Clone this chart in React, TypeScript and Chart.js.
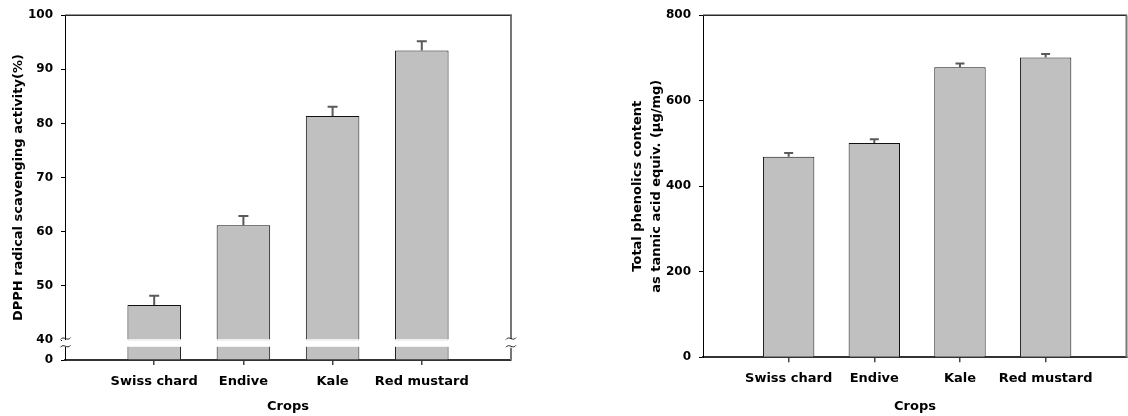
import React, { useEffect, useRef } from 'react';
import { Chart, registerables } from 'chart.js';

Chart.register(...registerables);

// ---------- data ----------
const CATEGORIES = ['Swiss chard', 'Endive', 'Kale', 'Red mustard'];

const DPPH_VALUES = [46.5, 61.2, 81.4, 93.5];
const DPPH_ERRORS = [1.7, 1.7, 1.7, 1.7];
const DPPH_UPPER_TICKS = [40, 50, 60, 70, 80, 90, 100];
const DPPH_LOWER_TICKS = [0];
const DPPH_BREAK = 40;
const DPPH_LOWER_MAX = 3.7;

const PHENOLIC_VALUES = [469, 501, 678, 701];
const PHENOLIC_ERRORS = [9, 9, 9, 8];
const PHENOLIC_TICKS = [0, 200, 400, 600, 800];

const DPPH_TITLE = 'DPPH radical scavenging activity(%)';
const PHENOLIC_TITLE = ['Total phenolics content', 'as tannic acid equiv. (\u03bcg/mg)'];
const X_TITLE = 'Crops';

// ---------- styling ----------
const FONT = "'DejaVu Sans', sans-serif";
Chart.defaults.font.family = FONT;
Chart.defaults.font.weight = 'bold';
Chart.defaults.color = '#000';

const BAR_FILL = '#C0C0C0';
const BAR_BORDER = '#111';

function squiggle(ctx: CanvasRenderingContext2D, x: number, y: number) {
  ctx.beginPath();
  ctx.moveTo(x - 5, y + 1);
  ctx.bezierCurveTo(x - 2, y - 3.5, x + 2, y + 3.5, x + 5, y - 1);
  ctx.stroke();
}

const errorBarPlugin = {
  id: 'errorBars',
  afterDatasetsDraw(chart: any, _args: any, opts: any) {
    const meta = chart.getDatasetMeta(opts.datasetIndex);
    const yScale = chart.scales[meta.yAxisID];
    const values: number[] = opts.values;
    const errors: number[] = opts.errors;
    const ctx: CanvasRenderingContext2D = chart.ctx;
    ctx.save();
    ctx.strokeStyle = '#5a5a5a';
    ctx.lineWidth = 2;
    meta.data.forEach((el: any, i: number) => {
      const x = el.x;
      const y0 = yScale.getPixelForValue(values[i]);
      const y1 = yScale.getPixelForValue(values[i] + errors[i]);
      ctx.beginPath();
      ctx.moveTo(x, y0);
      ctx.lineTo(x, y1);
      ctx.moveTo(x - opts.capWidth / 2, y1);
      ctx.lineTo(x + opts.capWidth / 2, y1);
      ctx.stroke();
    });
    ctx.restore();
  },
};

const dpphFramePlugin = {
  id: 'dpphFrame',
  afterDraw(chart: any) {
    const ctx: CanvasRenderingContext2D = chart.ctx;
    const { left, right, top, bottom } = chart.chartArea;
    const gapTop = chart.scales.yUpper.getPixelForValue(DPPH_BREAK);
    const gapBot = gapTop + 6.7;
    ctx.save();
    // white break band across bars and axes
    ctx.fillStyle = '#fff';
    ctx.fillRect(left - 3, gapTop, right - left + 6, gapBot - gapTop);
    // top border
    ctx.strokeStyle = '#2a2a2a';
    ctx.lineWidth = 1.5;
    ctx.beginPath();
    ctx.moveTo(left, top);
    ctx.lineTo(right + 1, top);
    ctx.stroke();
    // right border with break
    ctx.strokeStyle = '#777';
    ctx.lineWidth = 2;
    ctx.beginPath();
    ctx.moveTo(right, top);
    ctx.lineTo(right, gapTop - 1);
    ctx.moveTo(right, gapBot + 1);
    ctx.lineTo(right, bottom);
    ctx.stroke();
    // break marks
    ctx.strokeStyle = '#222';
    ctx.lineWidth = 1;
    squiggle(ctx, left + 0.5, gapTop - 1.5);
    squiggle(ctx, left + 0.5, gapBot - 0.5);
    squiggle(ctx, right, gapTop - 1.5);
    squiggle(ctx, right, gapBot - 0.5);
    ctx.restore();
  },
};

const phenolicFramePlugin = {
  id: 'phenolicFrame',
  afterDraw(chart: any) {
    const ctx: CanvasRenderingContext2D = chart.ctx;
    const { left, right, top, bottom } = chart.chartArea;
    ctx.save();
    ctx.strokeStyle = '#2a2a2a';
    ctx.lineWidth = 1.5;
    ctx.beginPath();
    ctx.moveTo(left, top);
    ctx.lineTo(right, top);
    ctx.stroke();
    ctx.strokeStyle = '#777';
    ctx.lineWidth = 2;
    ctx.beginPath();
    ctx.moveTo(right - 0.5, top);
    ctx.lineTo(right - 0.5, bottom);
    ctx.stroke();
    ctx.restore();
  },
};

function categoryXAxis(max: number, height: number, labelPad: number) {
  return {
    type: 'linear',
    position: 'bottom',
    min: 0,
    max,
    offset: false,
    z: 1,
    afterBuildTicks: (s: any) => {
      s.ticks = CATEGORIES.map((_, i) => ({ value: i + 1 }));
    },
    afterFit: (s: any) => {
      s.height = height;
    },
    ticks: {
      autoSkip: false,
      maxRotation: 0,
      padding: labelPad,
      font: { size: 13, weight: 'bold' },
      color: '#000',
      callback: (v: any) => CATEGORIES[Math.round(Number(v)) - 1] ?? '',
    },
    grid: {
      display: true,
      offset: false,
      drawOnChartArea: false,
      drawTicks: true,
      tickLength: 5,
      color: '#444',
      lineWidth: 1.5,
    },
    border: { display: true, color: '#333', width: 2 },
    title: {
      display: true,
      text: X_TITLE,
      font: { size: 13, weight: 'bold' },
      color: '#000',
      padding: { top: 0, bottom: 2 },
    },
  };
}

const barStyle = {
  grouped: false,
  backgroundColor: BAR_FILL,
  borderColor: BAR_BORDER,
  borderWidth: 1,
  barPercentage: 0.6,
  categoryPercentage: 1,
};

function dpphConfig(): any {
  return {
    type: 'bar',
    data: {
      datasets: [
        {
          label: 'DPPH',
          data: CATEGORIES.map((_, i) => ({ x: i + 1, y: DPPH_VALUES[i] })),
          xAxisID: 'x',
          yAxisID: 'yUpper',
          base: DPPH_BREAK,
          ...barStyle,
        },
        {
          label: 'DPPH (below break)',
          data: CATEGORIES.map((_, i) => ({ x: i + 1, y: Math.min(DPPH_VALUES[i], DPPH_LOWER_MAX) })),
          xAxisID: 'x',
          yAxisID: 'yLower',
          base: 0,
          ...barStyle,
        },
      ],
    },
    options: {
      responsive: false,
      animation: false,
      layout: { padding: { left: 0, top: 14, right: 49, bottom: 0 } },
      plugins: {
        legend: { display: false },
        tooltip: { enabled: false },
        errorBars: { datasetIndex: 0, values: DPPH_VALUES, errors: DPPH_ERRORS, capWidth: 10 },
      },
      scales: {
        x: categoryXAxis(5, 56, 9),
        yTitle: {
          type: 'linear',
          position: 'left',
          weight: 10,
          afterFit: (s: any) => {
            s.width = 28;
          },
          ticks: { display: false },
          grid: { display: false },
          border: { display: false },
          title: {
            display: true,
            text: DPPH_TITLE,
            font: { size: 13, weight: 'bold' },
            color: '#000',
            padding: { top: 10.7, bottom: 0 },
          },
        },
        yUpper: {
          type: 'linear',
          position: 'left',
          stack: 'dpph',
          stackWeight: 326,
          weight: 2,
          z: 1,
          min: DPPH_BREAK,
          max: 100,
          afterBuildTicks: (s: any) => {
            s.ticks = DPPH_UPPER_TICKS.map((v) => ({ value: v }));
          },
          afterFit: (s: any) => {
            s.width = 37;
          },
          ticks: { padding: 8, font: { size: 12, weight: 'bold' }, color: '#000' },
          grid: { drawOnChartArea: false, tickLength: 4, color: '#000' },
          border: { color: '#000', width: 1 },
        },
        yLower: {
          type: 'linear',
          position: 'left',
          stack: 'dpph',
          stackWeight: 20,
          weight: 1,
          z: 1,
          min: 0,
          max: DPPH_LOWER_MAX,
          afterBuildTicks: (s: any) => {
            s.ticks = DPPH_LOWER_TICKS.map((v) => ({ value: v }));
          },
          afterFit: (s: any) => {
            s.width = 37;
          },
          ticks: { padding: 8, font: { size: 12, weight: 'bold' }, color: '#000' },
          grid: { drawOnChartArea: false, tickLength: 4, color: '#000' },
          border: { color: '#000', width: 1 },
        },
      },
    },
    plugins: [errorBarPlugin, dpphFramePlugin],
  };
}

function phenolicConfig(): any {
  return {
    type: 'bar',
    data: {
      datasets: [
        {
          label: 'Total phenolics',
          data: CATEGORIES.map((_, i) => ({ x: i + 1, y: PHENOLIC_VALUES[i] })),
          xAxisID: 'x',
          yAxisID: 'y',
          ...barStyle,
        },
      ],
    },
    options: {
      responsive: false,
      animation: false,
      layout: { padding: { left: 0, top: 13.5, right: 1, bottom: 0 } },
      plugins: {
        legend: { display: false },
        tooltip: { enabled: false },
        errorBars: { datasetIndex: 0, values: PHENOLIC_VALUES, errors: PHENOLIC_ERRORS, capWidth: 9 },
      },
      scales: {
        x: categoryXAxis(4.95, 58.7, 9),
        y: {
          type: 'linear',
          position: 'left',
          z: 1,
          min: 0,
          max: 800,
          afterBuildTicks: (s: any) => {
            s.ticks = PHENOLIC_TICKS.map((v) => ({ value: v }));
          },
          afterFit: (s: any) => {
            s.width = 143;
          },
          ticks: { padding: 8, font: { size: 12, weight: 'bold' }, color: '#000' },
          grid: { drawOnChartArea: false, tickLength: 4, color: '#000' },
          border: { color: '#000', width: 1 },
          title: {
            display: true,
            text: PHENOLIC_TITLE,
            font: { size: 13, weight: 'bold', lineHeight: 1.46 },
            color: '#000',
            padding: { top: 68.5, bottom: 0 },
          },
        },
      },
    },
    plugins: [errorBarPlugin, phenolicFramePlugin],
  };
}

function ChartCanvas({ left, width, height, makeConfig }: { left: number; width: number; height: number; makeConfig: () => any }) {
  const ref = useRef<HTMLCanvasElement | null>(null);
  useEffect(() => {
    if (!ref.current) return;
    const chart = new Chart(ref.current, makeConfig());
    return () => chart.destroy();
  }, [makeConfig]);
  return (
    <canvas
      ref={ref}
      width={width}
      height={height}
      style={{ position: 'absolute', left, top: 0, width, height }}
    />
  );
}

export default function App() {
  return (
    <div style={{ position: 'absolute', left: 0, top: 0, width: 1128, height: 416, background: '#fff', overflow: 'hidden' }}>
      <ChartCanvas left={0} width={560} height={416} makeConfig={dpphConfig} />
      <ChartCanvas left={560} width={568} height={416} makeConfig={phenolicConfig} />
    </div>
  );
}
